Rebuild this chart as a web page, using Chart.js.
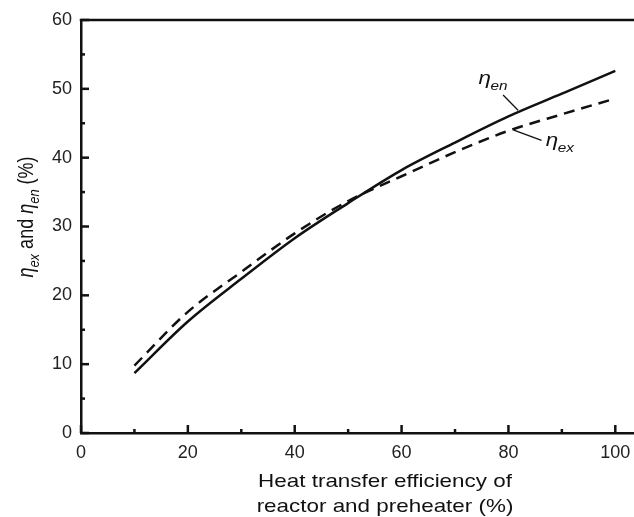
<!DOCTYPE html>
<html>
<head>
<meta charset="utf-8">
<script src="https://cdn.jsdelivr.net/npm/chart.js@4"></script>
<style>
  body { margin: 0; background: #fff; }
  #wrap { width: 634px; height: 517px; position: relative; }
</style>
</head>
<body>
<div id="wrap"><canvas id="chart"></canvas></div>
<script>
// Data
const efficiency = [10, 20, 30, 40, 50, 60, 70, 80, 90, 100];
const etaEn = [8.7, 16.2, 22.4, 28.3, 33.4, 38.2, 42.2, 46.0, 49.3, 52.6];
const etaEx = [9.8, 17.6, 23.4, 29.0, 33.7, 37.3, 40.8, 43.9, 46.3, 48.6];

// Axis ticks
const xMajor = [0, 20, 40, 60, 80, 100];
const xMinor = [10, 30, 50, 70, 90];
const yMajor = [0, 10, 20, 30, 40, 50, 60];
const yMinor = [5, 15, 25, 35, 45, 55];

const FONT = '"Liberation Sans", Arial, sans-serif';
const INK = '#111';
const STRETCH = 1.18; // the original figure is a bit wider than tall

// Draw inward tick marks, top frame line, axis titles and curve labels
const decorations = {
    id: 'decorations',
    afterDraw(chart) {
        const ctx = chart.ctx;
        const xs = chart.scales.x;
        const ys = chart.scales.y;
        const area = chart.chartArea;

        ctx.save();
        ctx.strokeStyle = INK;
        ctx.lineWidth = 2.5;

        // top frame line
        ctx.beginPath();
        ctx.moveTo(area.left - 1.25, area.top);
        ctx.lineTo(chart.width, area.top);
        ctx.stroke();

        // inward ticks
        const tick = (x1, y1, x2, y2) => {
            ctx.beginPath();
            ctx.moveTo(x1, y1);
            ctx.lineTo(x2, y2);
            ctx.stroke();
        };
        xMajor.forEach(v => { const p = xs.getPixelForValue(v); tick(p, area.bottom, p, area.bottom - 8); });
        xMinor.forEach(v => { const p = xs.getPixelForValue(v); tick(p, area.bottom, p, area.bottom - 4); });
        yMajor.forEach(v => { const p = ys.getPixelForValue(v); tick(area.left, p, area.left + 8, p); });
        yMinor.forEach(v => { const p = ys.getPixelForValue(v); tick(area.left, p, area.left + 4, p); });

        // curve labels with leader lines
        ctx.lineWidth = 1.3;
        const leader = (a, b) => tick(xs.getPixelForValue(a[0]), ys.getPixelForValue(a[1]),
                                      xs.getPixelForValue(b[0]), ys.getPixelForValue(b[1]));
        leader([79.0, 49.1], [81.8, 46.9]);
        leader([81.0, 44.0], [86.2, 42.5]);

        ctx.fillStyle = INK;
        ctx.textBaseline = 'alphabetic';
        ctx.textAlign = 'left';
        const etaLabel = (x, y, sub, size) => {
            ctx.save();
            ctx.translate(x, y);
            ctx.scale(STRETCH, 1);
            ctx.font = 'italic ' + size + 'px ' + FONT;
            ctx.fillText('\u03B7', 0, 0);
            const w = ctx.measureText('\u03B7').width;
            ctx.font = 'italic 13px ' + FONT;
            ctx.fillText(sub, w - 0.5, size * 0.3);
            ctx.restore();
        };
        etaLabel(xs.getPixelForValue(74.4), ys.getPixelForValue(50.7), 'en', 19);
        etaLabel(xs.getPixelForValue(87.0), ys.getPixelForValue(41.7), 'ex', 19);

        // x axis title (two lines)
        ctx.save();
        ctx.translate(385, 0);
        ctx.scale(STRETCH, 1);
        ctx.textAlign = 'center';
        ctx.font = '19px ' + FONT;
        ctx.fillText('Heat transfer efficiency of', 0, 487);
        ctx.fillText('reactor and preheater (%)', 0, 512);
        ctx.restore();

        // y axis title with subscripts, rotated
        const parts = [
            ['\u03B7', 'italic 18px', 0],
            ['ex', 'italic 13px', 5],
            [' and ', '18px', 0],
            ['\u03B7', 'italic 18px', 0],
            ['en', 'italic 13px', 5],
            [' (%)', '18px', 0]
        ];
        let total = 0;
        parts.forEach(p => { ctx.font = p[1] + ' ' + FONT; total += ctx.measureText(p[0]).width; });
        ctx.translate(33, 217);
        ctx.scale(STRETCH, 1);
        ctx.rotate(-Math.PI / 2);
        ctx.textAlign = 'left';
        let cx = -total / 2;
        parts.forEach(p => {
            ctx.font = p[1] + ' ' + FONT;
            ctx.fillText(p[0], cx, p[2]);
            cx += ctx.measureText(p[0]).width;
        });
        ctx.restore();
    }
};

const ctx = document.getElementById('chart').getContext('2d');
new Chart(ctx, {
    type: 'line',
    data: {
        datasets: [{
            label: 'eta_en',
            data: efficiency.map((x, i) => ({ x: x, y: etaEn[i] })),
            borderColor: INK,
            borderWidth: 2.5,
            pointRadius: 0,
            cubicInterpolationMode: 'monotone',
            fill: false
        }, {
            label: 'eta_ex',
            data: efficiency.map((x, i) => ({ x: x, y: etaEx[i] })),
            borderColor: INK,
            borderWidth: 2.5,
            borderDash: [11, 7],
            pointRadius: 0,
            cubicInterpolationMode: 'monotone',
            fill: false
        }]
    },
    options: {
        responsive: true,
        maintainAspectRatio: false,
        animation: false,
        layout: { padding: { top: 20, right: 0, left: 0, bottom: 0 } },
        plugins: {
            legend: { display: false },
            tooltip: { enabled: false }
        },
        scales: {
            x: {
                type: 'linear',
                min: 0,
                max: 103.5,
                afterBuildTicks: s => { s.ticks = xMajor.map(v => ({ value: v })); },
                afterFit: s => { s.height = 84; s.paddingRight = 0; },
                border: { display: true, color: INK, width: 2.5 },
                grid: { display: false, drawTicks: false },
                ticks: {
                    autoSkip: false,
                    maxRotation: 0,
                    padding: 9,
                    color: '#222',
                    font: { family: FONT, size: 18 }
                }
            },
            y: {
                min: 0,
                max: 60,
                afterBuildTicks: s => { s.ticks = yMajor.map(v => ({ value: v })); },
                afterFit: s => { s.width = 81; },
                border: { display: true, color: INK, width: 2.5 },
                grid: { display: false, drawTicks: false },
                ticks: {
                    autoSkip: false,
                    padding: 9,
                    color: '#222',
                    font: { family: FONT, size: 18 }
                }
            }
        }
    },
    plugins: [decorations]
});
</script>
</body>
</html>
